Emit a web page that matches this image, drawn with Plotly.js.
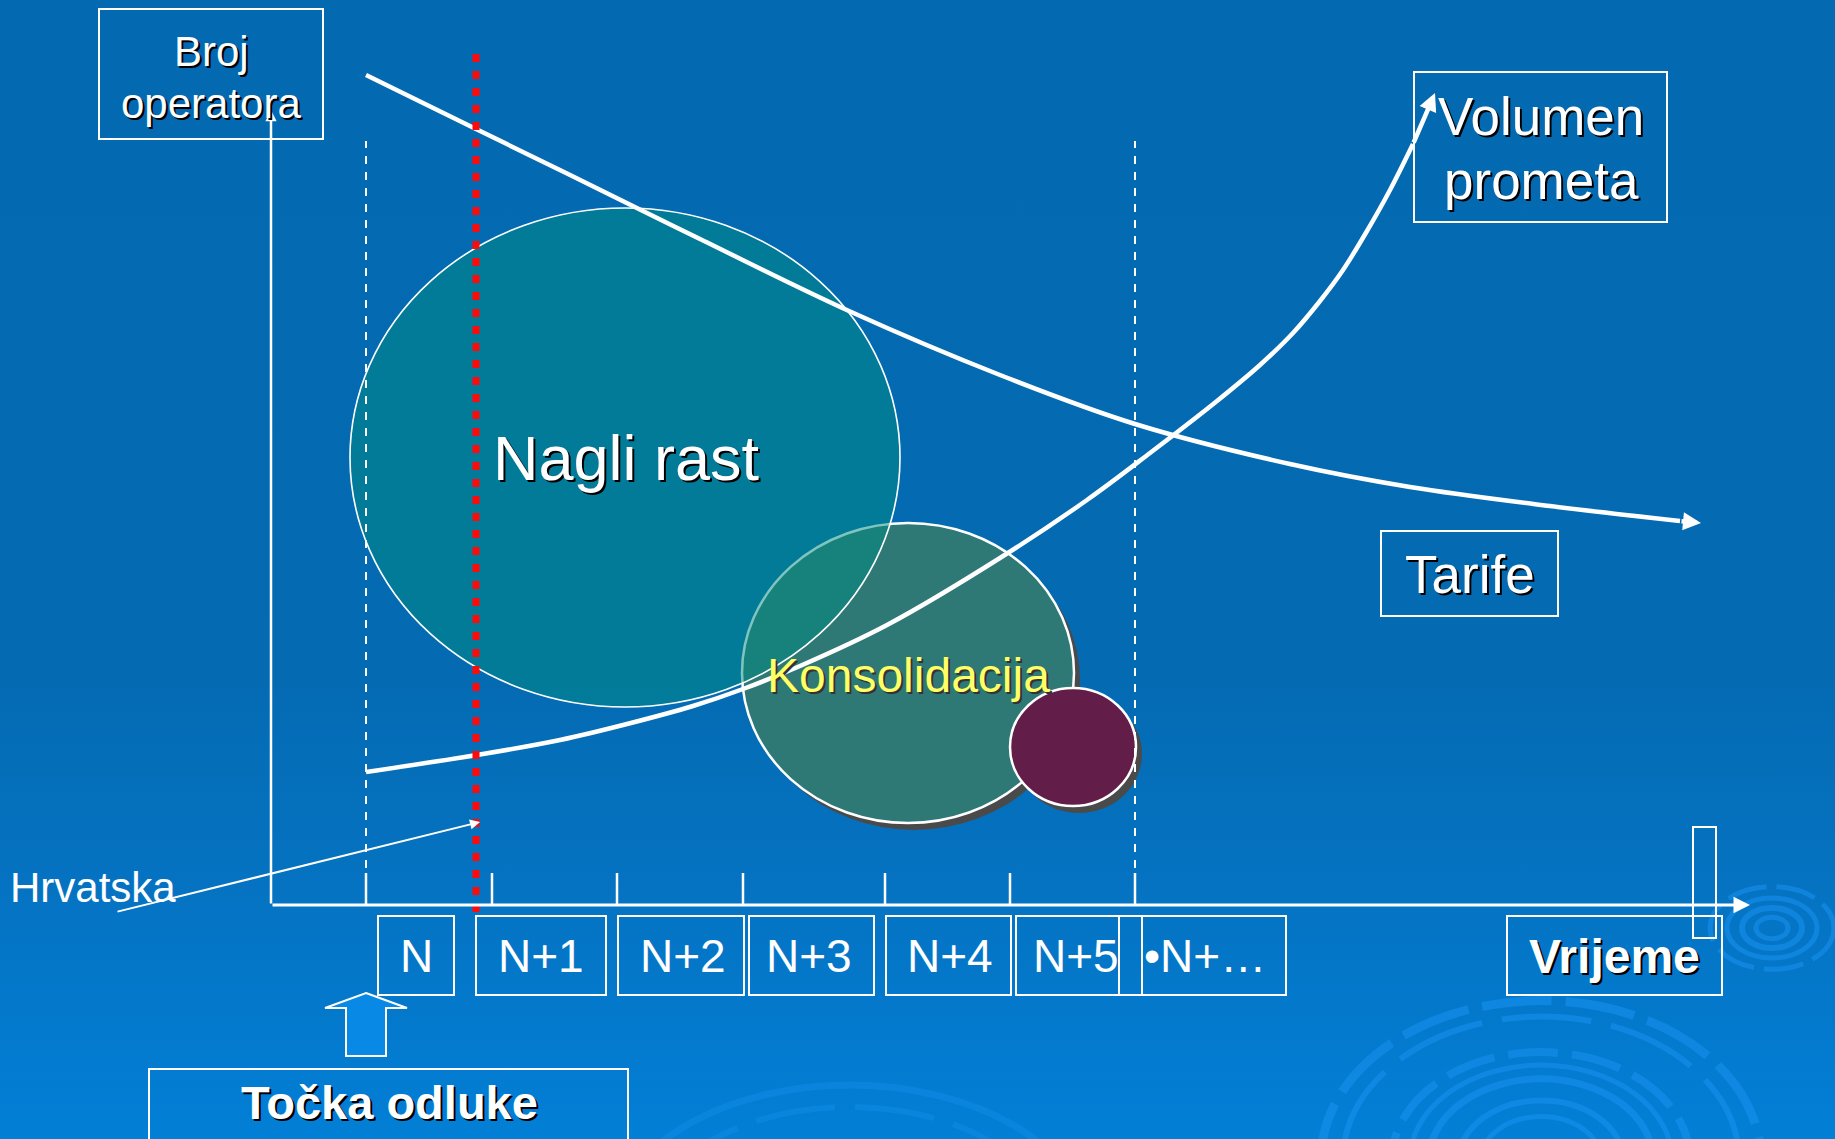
<!DOCTYPE html>
<html>
<head>
<meta charset="utf-8">
<script src="https://cdn.plot.ly/plotly-3.0.1.min.js"></script>
<style>
  html, body { margin: 0; padding: 0; }
  body { width: 1835px; height: 1139px; overflow: hidden;
         background: linear-gradient(180deg, #0369b0 0%, #046bb3 60%, #0573c2 78%, #027fd6 100%); }
  #chart { width: 1835px; height: 1139px; }
</style>
</head>
<body>
<div id="chart"></div>
<script>
// ---------------- DATA (units: distance from the axis origin) ----------------
const periodLabels = ["N", "N+1", "N+2", "N+3", "N+4", "N+5", "•N+…"];
const periodTicks  = [95, 221, 346, 472, 614, 739, 864];

// "Tarife" – falling curve (last point = arrow tip)
const tarifeX = [95, 205, 295, 429, 578, 729, 864, 1019, 1139, 1279, 1409, 1430];
const tarifeY = [830, 776, 732, 666, 594, 530, 481, 441, 418, 399, 384, 382];

// "Volumen prometa" – rising curve (last point = arrow tip)
const volumenX = [95, 206, 289, 356, 422, 472, 529, 616, 729, 816, 879, 946, 989, 1022, 1049, 1072, 1096, 1119, 1142, 1164];
const volumenY = [133, 150, 165, 181, 199, 216, 239, 280, 347, 405, 452, 504, 540, 572, 604, 635, 674, 715, 761, 812];

const decisionX = 205;         // red dotted "decision point" line
const phaseBounds = [95, 864]; // white dashed phase limits

// ---------------- LAYOUT HELPERS (pixel -> axis units) ----------------
const OX = 271, OY = 905;
const X = px => px - OX;
const Y = py => OY - py;
const FONT = "Liberation Sans, Arial, sans-serif";
const SH = "2px 2px 0px #000";

function rect(x0, y0, x1, y1, w) {
  return {type: "rect", xref: "x", yref: "y", x0: X(x0), x1: X(x1), y0: Y(y1), y1: Y(y0),
          line: {color: "white", width: w || 2}, fillcolor: "rgba(0,0,0,0)", layer: "above"};
}
function ell(x0, y0, x1, y1, fill, line, layer) {
  return {type: "circle", xref: "x", yref: "y", x0: X(x0), x1: X(x1), y0: Y(y1), y1: Y(y0),
          fillcolor: fill, line: line || {width: 0}, layer: layer || "below"};
}
function ring(cx, cy, rx, ry, w, dash, col) {
  return ell(cx - rx, cy - ry, cx + rx, cy + ry, "rgba(0,0,0,0)",
             {color: col || "rgba(25,145,240,0.55)", width: w, dash: dash || "solid"});
}
function txt(text, px, py, size, opts) {
  opts = opts || {};
  return Object.assign({xref: "x", yref: "y", x: X(px), y: Y(py), text: text, showarrow: false,
    xanchor: "center", yanchor: "middle",
    font: {family: FONT, size: size, color: opts.color || "white", weight: opts.weight || "normal",
           shadow: opts.shadow || "none"}}, opts.extra || {});
}
function arrow(tx, ty, hx, hy, w, size) {
  return {xref: "x", yref: "y", axref: "x", ayref: "y", x: hx, y: hy, ax: tx, ay: ty, text: "",
          showarrow: true, arrowhead: 2, arrowsize: size, arrowwidth: w, arrowcolor: "white", standoff: 0};
}

// ---------------- SHAPES ----------------
const shapes = [];
// decorative background rings
[[220, 9, "70px,14px"], [198, 6, "90px,20px"], [149, 8, "50px,14px"], [131, 5, "solid"],
 [112, 7, "solid"], [82, 6, "solid"], [60, 5, "solid"]].forEach(r =>
  shapes.push(ring(1541, 1160, r[0], r[0] / 1.38, r[1], r[2])));
[[62, 5, "40px,10px"], [45, 5, "solid"], [30, 6, "solid"], [16, 5, "solid"]].forEach(r =>
  shapes.push(ring(1772, 928, r[0], r[0] / 1.5, r[1], r[2])));
[[240, 7, "solid"], [205, 6, "80px,20px"]].forEach(r =>
  shapes.push(ring(850, 1235, r[0], r[0] / 1.6, r[1], r[2], "rgba(25,145,240,0.35)")));

// phase bubbles
shapes.push(ell(748, 530, 1080, 830, "#4a4a4a"));
shapes.push(ell(742, 523, 1074, 823, "rgb(46,120,118)", {color: "white", width: 2.5}));
shapes.push(ell(1016, 695, 1142, 813, "#4a4a4a"));
shapes.push(ell(1010, 688, 1136, 806, "rgb(98,30,72)", {color: "white", width: 2.5}));
shapes.push(ell(350, 208, 900, 707, "rgba(0,140,128,0.5)", {color: "white", width: 1.6}));

// dashed phase limits
phaseBounds.forEach(v => shapes.push({type: "line", xref: "x", yref: "y", x0: v, x1: v,
  y0: Y(868), y1: Y(141), line: {color: "white", width: 2, dash: "8px,8px"}, layer: "below"}));
// ticks on time axis
periodTicks.forEach(v => shapes.push({type: "line", xref: "x", yref: "y", x0: v, x1: v,
  y0: 0, y1: 32, line: {color: "white", width: 2.5}, layer: "below"}));

// red dotted decision line
shapes.push({type: "line", xref: "x", yref: "y", x0: decisionX, x1: decisionX, y0: Y(912), y1: Y(53),
  line: {color: "#ff0a0a", width: 7, dash: "8px,9px"}, layer: "above"});

// label boxes
shapes.push(rect(99, 9, 323, 139));
shapes.push(rect(1414, 72, 1667, 222));
shapes.push(rect(1381, 531, 1558, 616));
const periodBoxes = [[378, 454], [476, 606], [618, 744], [749, 874], [886, 1011], [1016, 1119], [1119, 1142], [1142, 1286]];
periodBoxes.forEach(b => shapes.push(rect(b[0], 916, b[1], 995)));
shapes.push(rect(1507, 916, 1722, 995));
shapes.push(rect(1693, 827, 1716, 938));
shapes.push(rect(149, 1069, 628, 1160));

// hollow up-arrow pointing to N
const ap = [[366, 993], [407, 1008], [386, 1008], [386, 1056], [346, 1056], [346, 1008], [325, 1008]];
shapes.push({type: "path", xref: "x", yref: "y",
  path: "M" + ap.map(p => X(p[0]) + "," + Y(p[1])).join(" L") + " Z",
  fillcolor: "#0889e6", line: {color: "white", width: 2}, layer: "above"});

// ---------------- TRACES ----------------
const n1 = tarifeX.length, n2 = volumenX.length;
const traces = [
  {x: tarifeX.slice(0, n1 - 1), y: tarifeY.slice(0, n1 - 1), type: "scatter", mode: "lines",
   line: {color: "white", width: 4.5, shape: "spline", smoothing: 1}, hoverinfo: "skip", name: "Tarife"},
  {x: volumenX.slice(0, n2 - 1), y: volumenY.slice(0, n2 - 1), type: "scatter", mode: "lines",
   line: {color: "white", width: 4.5, shape: "spline", smoothing: 1}, hoverinfo: "skip", name: "Volumen prometa"}
];

// ---------------- ANNOTATIONS ----------------
const annotations = [
  // axes with arrows
  arrow(0, 0, 0, Y(110), 2.5, 0.9),
  arrow(0, 0, X(1750), 0, 3, 1.1),
  // curve arrowheads
  arrow(tarifeX[n1 - 2], tarifeY[n1 - 2], tarifeX[n1 - 1], tarifeY[n1 - 1], 4.5, 0.8),
  arrow(volumenX[n2 - 2], volumenY[n2 - 2], volumenX[n2 - 1], volumenY[n2 - 1], 4.5, 0.8),
  // Hrvatska pointer
  arrow(X(116), Y(912), X(480), Y(822), 2, 1),

  txt("Broj", 211, 51, 42, {shadow: SH}),
  txt("operatora", 211, 103, 42, {shadow: SH}),
  txt("Volumen", 1541, 116, 53, {shadow: SH}),
  txt("prometa", 1541, 180, 53, {shadow: SH}),
  txt("Tarife", 1470, 574, 53, {shadow: SH}),
  txt("Nagli rast", 626, 458, 63, {shadow: SH}),
  txt("Konsolidacija", 908, 675, 48, {color: "#ffff66", shadow: "2px 2px 0px #333"}),
  txt("Hrvatska", 8, 887, 42, {extra: {xanchor: "left"}}),
  txt("Vrijeme", 1614, 956, 48, {weight: "bold", shadow: SH}),
  txt("Točka odluke", 389, 1102, 47, {weight: "bold", shadow: SH})
];
const periodLabelPos = [416, 541, 683, 809, 950, 1076, 1142];
periodLabels.forEach((lab, i) => {
  const last = i === periodLabels.length - 1;
  annotations.push(txt(lab, periodLabelPos[i], 956, 46, {extra: last ? {xanchor: "left"} : {}}));
});

const layout = {
  width: 1835, height: 1139, autosize: false,
  margin: {l: 0, r: 0, t: 0, b: 0, pad: 0},
  paper_bgcolor: "rgba(0,0,0,0)", plot_bgcolor: "rgba(0,0,0,0)",
  showlegend: false,
  xaxis: {range: [-OX, 1835 - OX], visible: false, fixedrange: true},
  yaxis: {range: [OY - 1139, OY], visible: false, fixedrange: true},
  shapes: shapes,
  annotations: annotations
};

Plotly.newPlot("chart", traces, layout, {displayModeBar: false, staticPlot: true});
</script>
</body>
</html>
